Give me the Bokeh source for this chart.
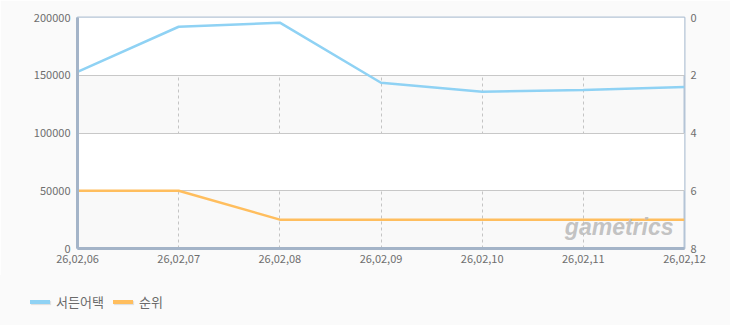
from bokeh.plotting import figure
from bokeh.layouts import column
from bokeh.models import (Range1d, LinearAxis, FixedTicker, Label,
                          BasicTickFormatter, Div)
from bokeh.embed import file_html
from bokeh.resources import INLINE

dates = ["26,02,06", "26,02,07", "26,02,08", "26,02,09", "26,02,10", "26,02,11", "26,02,12"]
users = [153000, 192000, 195500, 143500, 135800, 137200, 139800]
rank = [6, 6, 7, 7, 7, 7, 7]
left_ticks = [0, 50000, 100000, 150000, 200000]
right_ticks = [0, 2, 4, 6, 8]
series_names = ["서든어택", "순위"]
series_colors = ["#8fd2f4", "#ffbe5e"]

FONT = "Noto Sans CJK KR"
LABEL_COLOR = "#6e6e6e"
BG = "#fafafa"

xs = list(range(len(dates)))

p = figure(width=730, height=275, output_backend="svg", toolbar_location=None,
           x_range=Range1d(0, len(dates) - 1), y_range=Range1d(0, 200000),
           min_border_left=77, min_border_right=46, min_border_top=17,
           min_border_bottom=27)
p.extra_y_ranges = {"rank": Range1d(start=8, end=0)}

p.background_fill_color = "#f9f9f9"
p.border_fill_color = BG
p.outline_line_color = "#b4c4d6"
p.outline_line_width = 2

# grid
p.ygrid.ticker = FixedTicker(ticks=left_ticks)
p.ygrid.grid_line_color = "#c8c8c8"
p.ygrid.grid_line_width = 1
p.ygrid.band_fill_color = "white"
p.ygrid.band_fill_alpha = 1.0
p.xgrid.ticker = FixedTicker(ticks=xs)
p.xgrid.grid_line_color = "#c4c4c4"
p.xgrid.grid_line_dash = "3 3"
p.xgrid.grid_line_width = 1

# left axis
ya = p.yaxis[0]
ya.ticker = FixedTicker(ticks=left_ticks)
ya.formatter = BasicTickFormatter(use_scientific=False)
ya.axis_line_color = "#a4b4c8"
ya.axis_line_width = 3
ya.major_tick_line_color = None
ya.minor_tick_line_color = None
ya.major_label_standoff = 1
ya.major_label_text_font = FONT
ya.major_label_text_font_size = "11px"
ya.major_label_text_color = LABEL_COLOR

# bottom axis
xa = p.xaxis[0]
xa.ticker = FixedTicker(ticks=xs)
xa.major_label_overrides = {i: d for i, d in enumerate(dates)}
xa.axis_line_color = "#a4b4c8"
xa.axis_line_width = 3
xa.major_tick_line_color = None
xa.minor_tick_line_color = None
xa.major_label_standoff = 0
xa.major_label_text_font = FONT
xa.major_label_text_font_size = "11px"
xa.major_label_text_color = LABEL_COLOR

# right axis
ra = LinearAxis(y_range_name="rank", ticker=FixedTicker(ticks=right_ticks))
ra.axis_line_color = None
ra.major_tick_line_color = None
ra.minor_tick_line_color = None
ra.major_label_standoff = 0
ra.major_label_text_font = FONT
ra.major_label_text_font_size = "11px"
ra.major_label_text_color = LABEL_COLOR
p.add_layout(ra, "right")

# watermark
wm = Label(x=596, y=9, x_units="screen", y_units="screen", text="gametrics",
           text_font="Liberation Sans", text_font_style="bold italic",
           text_font_size="23px", text_color="#bcbcbc", text_alpha=0.9,
           text_align="right")
p.add_layout(wm)

p.line(xs, users, line_color=series_colors[0], line_width=2.5)
p.line(xs, rank, y_range_name="rank", line_color=series_colors[1], line_width=2.5)

# legend strip (HTML)
item_lefts = [30, 113]
parts = []
for name, color, left in zip(series_names, series_colors, item_lefts):
    parts.append(
        f'<span style="position:absolute;left:{left}px;top:25px;width:20px;height:4px;'
        f'background:{color};box-shadow:1px 1px 1px #dddddd;"></span>'
        f'<span style="position:absolute;left:{left + 26}px;top:17px;line-height:20px;'
        f'font-family:\'{FONT}\';font-size:13px;color:#6a6a6a;">{name}</span>'
    )
html = ('<div style="position:relative;width:730px;height:50px;background:%s;">%s</div>'
        % (BG, "".join(parts)))
legend_div = Div(text=html, width=730, height=50, margin=0,
                 styles={"background-color": BG})

open("out.html", "w").write(file_html(column(p, legend_div, spacing=0), INLINE))
